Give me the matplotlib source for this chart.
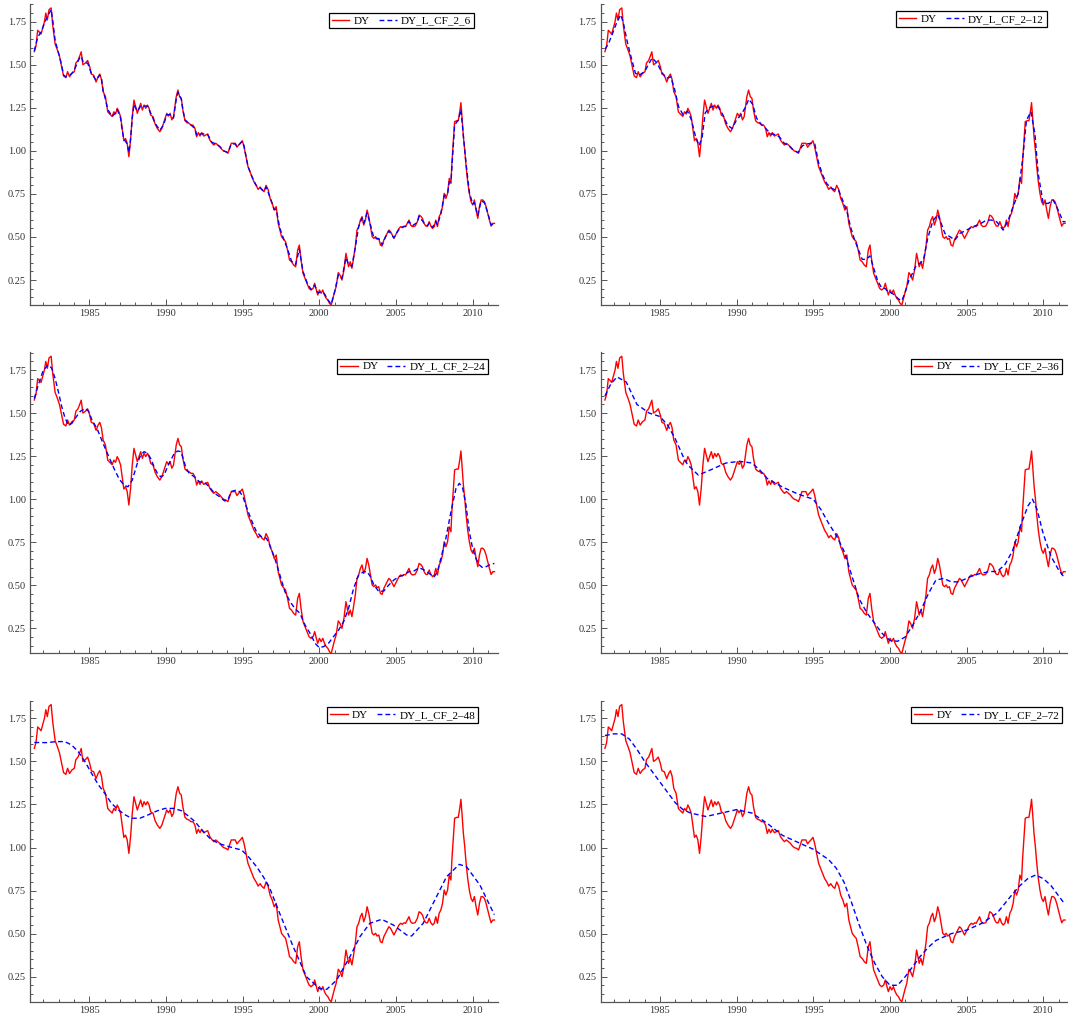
import matplotlib.pyplot as plt
import numpy as np
from matplotlib.ticker import MultipleLocator, FormatStrFormatter

# Mathematica-like look: serif font, only left/bottom axes, ticks inside
plt.rcParams['font.family'] = 'Liberation Serif'
plt.rcParams['font.size'] = 7.5

# DY (red) as (year, value)
dy = [
    (1981.41, 1.576), (1981.52, 1.609), (1981.63, 1.700), (1981.74, 1.690), (1981.85, 1.678),
    (1982.07, 1.750), (1982.16, 1.800), (1982.26, 1.760), (1982.37, 1.820), (1982.51, 1.830),
    (1982.61, 1.730), (1982.77, 1.620), (1982.92, 1.585), (1983.05, 1.550), (1983.21, 1.480),
    (1983.32, 1.435), (1983.47, 1.425), (1983.58, 1.460), (1983.71, 1.430), (1983.86, 1.450),
    (1984.02, 1.460), (1984.12, 1.510), (1984.26, 1.525), (1984.37, 1.550), (1984.47, 1.575),
    (1984.58, 1.500), (1984.74, 1.510), (1984.89, 1.525), (1985.02, 1.490), (1985.13, 1.446),
    (1985.28, 1.440), (1985.44, 1.400), (1985.57, 1.430), (1985.68, 1.446), (1985.79, 1.415),
    (1985.90, 1.344), (1986.05, 1.315), (1986.20, 1.227), (1986.33, 1.214), (1986.49, 1.200),
    (1986.60, 1.227), (1986.71, 1.214), (1986.82, 1.247), (1986.93, 1.227), (1987.04, 1.198),
    (1987.14, 1.130), (1987.25, 1.059), (1987.36, 1.072), (1987.47, 1.044), (1987.58, 0.966),
    (1987.69, 1.063), (1987.80, 1.198), (1987.91, 1.295), (1988.02, 1.256), (1988.13, 1.218),
    (1988.24, 1.247), (1988.35, 1.276), (1988.46, 1.237), (1988.57, 1.266), (1988.68, 1.247),
    (1988.79, 1.266), (1988.90, 1.247), (1989.00, 1.208), (1989.16, 1.198), (1989.29, 1.156),
    (1989.44, 1.130), (1989.60, 1.111), (1989.73, 1.130), (1989.84, 1.160), (1989.95, 1.189),
    (1990.05, 1.218), (1990.16, 1.202), (1990.27, 1.218), (1990.38, 1.180), (1990.49, 1.198),
    (1990.58, 1.256), (1990.67, 1.315), (1990.78, 1.353), (1990.89, 1.315), (1991.00, 1.305),
    (1991.10, 1.237), (1991.24, 1.175), (1991.37, 1.164), (1991.50, 1.160), (1991.63, 1.150),
    (1991.76, 1.150), (1991.89, 1.130), (1992.00, 1.082), (1992.11, 1.106), (1992.22, 1.086),
    (1992.33, 1.106), (1992.46, 1.086), (1992.59, 1.092), (1992.72, 1.098), (1992.86, 1.063),
    (1992.99, 1.047), (1993.12, 1.034), (1993.25, 1.044), (1993.38, 1.034), (1993.51, 1.024),
    (1993.64, 1.009), (1993.77, 0.999), (1993.91, 0.995), (1994.04, 0.986), (1994.15, 1.015),
    (1994.26, 1.044), (1994.39, 1.044), (1994.52, 1.044), (1994.63, 1.021), (1994.74, 1.034),
    (1994.85, 1.044), (1994.98, 1.059), (1995.09, 1.024), (1995.22, 0.966), (1995.35, 0.908),
    (1995.48, 0.879), (1995.61, 0.850), (1995.74, 0.820), (1995.88, 0.800), (1996.01, 0.776),
    (1996.14, 0.790), (1996.27, 0.773), (1996.40, 0.763), (1996.53, 0.800), (1996.66, 0.776),
    (1996.79, 0.724), (1996.93, 0.695), (1997.06, 0.656), (1997.19, 0.676), (1997.32, 0.579),
    (1997.43, 0.540), (1997.54, 0.502), (1997.67, 0.486), (1997.80, 0.473), (1997.93, 0.424),
    (1998.06, 0.366), (1998.19, 0.356), (1998.33, 0.337), (1998.46, 0.327), (1998.59, 0.424),
    (1998.70, 0.453), (1998.81, 0.366), (1998.94, 0.289), (1999.07, 0.260), (1999.20, 0.231),
    (1999.33, 0.202), (1999.46, 0.192), (1999.60, 0.202), (1999.70, 0.231), (1999.81, 0.192),
    (1999.90, 0.163), (2000.01, 0.192), (2000.12, 0.173), (2000.23, 0.192), (2000.34, 0.163),
    (2000.45, 0.144), (2000.56, 0.134), (2000.67, 0.114), (2000.78, 0.105), (2000.89, 0.144),
    (2001.00, 0.182), (2001.10, 0.211), (2001.24, 0.293), (2001.35, 0.279), (2001.48, 0.250),
    (2001.61, 0.308), (2001.74, 0.405), (2001.83, 0.366), (2001.91, 0.327), (2002.02, 0.356),
    (2002.13, 0.318), (2002.22, 0.366), (2002.35, 0.443), (2002.46, 0.540), (2002.57, 0.560),
    (2002.68, 0.598), (2002.79, 0.618), (2002.90, 0.569), (2003.01, 0.598), (2003.12, 0.656),
    (2003.23, 0.618), (2003.34, 0.560), (2003.45, 0.502), (2003.56, 0.492), (2003.67, 0.502),
    (2003.77, 0.486), (2003.88, 0.492), (2003.99, 0.453), (2004.10, 0.447), (2004.21, 0.482),
    (2004.32, 0.502), (2004.43, 0.521), (2004.54, 0.540), (2004.65, 0.531), (2004.76, 0.511),
    (2004.87, 0.492), (2004.98, 0.511), (2005.09, 0.531), (2005.20, 0.550), (2005.31, 0.560),
    (2005.42, 0.554), (2005.53, 0.563), (2005.63, 0.560), (2005.74, 0.579), (2005.85, 0.598),
    (2005.96, 0.569), (2006.07, 0.560), (2006.25, 0.563), (2006.40, 0.589), (2006.51, 0.627),
    (2006.62, 0.621), (2006.73, 0.608), (2006.84, 0.579), (2006.95, 0.563), (2007.06, 0.563),
    (2007.17, 0.589), (2007.28, 0.563), (2007.39, 0.550), (2007.50, 0.560), (2007.60, 0.598),
    (2007.71, 0.560), (2007.82, 0.618), (2007.93, 0.637), (2008.04, 0.676), (2008.15, 0.753),
    (2008.26, 0.724), (2008.37, 0.753), (2008.48, 0.840), (2008.59, 0.811), (2008.65, 0.927),
    (2008.74, 1.044), (2008.83, 1.170), (2008.96, 1.175), (2009.07, 1.175), (2009.18, 1.237),
    (2009.24, 1.280), (2009.31, 1.198), (2009.40, 1.082), (2009.49, 1.005), (2009.57, 0.918),
    (2009.68, 0.821), (2009.79, 0.753), (2009.90, 0.705), (2010.01, 0.686), (2010.12, 0.715),
    (2010.23, 0.656), (2010.34, 0.608), (2010.45, 0.676), (2010.56, 0.715), (2010.66, 0.715),
    (2010.77, 0.705), (2010.88, 0.676), (2010.99, 0.637), (2011.10, 0.598), (2011.21, 0.563),
    (2011.32, 0.579), (2011.43, 0.579),
]

# filtered series (blue dashed), one per panel
cf_2_6 = [
    (1981.41, 1.58), (1981.63, 1.66), (1981.85, 1.69), (1982.07, 1.74), (1982.26, 1.78),
    (1982.51, 1.82), (1982.61, 1.76), (1982.77, 1.64), (1982.92, 1.59), (1983.05, 1.55),
    (1983.21, 1.49), (1983.32, 1.44), (1983.47, 1.43), (1983.71, 1.44), (1983.86, 1.45),
    (1984.02, 1.47), (1984.26, 1.52), (1984.37, 1.54), (1984.47, 1.55), (1984.58, 1.52),
    (1984.74, 1.51), (1984.89, 1.51), (1985.13, 1.45), (1985.44, 1.41), (1985.68, 1.44),
    (1985.79, 1.42), (1985.90, 1.35), (1986.05, 1.30), (1986.20, 1.24), (1986.49, 1.20),
    (1986.71, 1.22), (1986.82, 1.24), (1987.04, 1.19), (1987.14, 1.12), (1987.25, 1.07),
    (1987.47, 1.04), (1987.58, 0.99), (1987.69, 1.07), (1987.80, 1.19), (1987.91, 1.27),
    (1988.13, 1.23), (1988.35, 1.26), (1988.57, 1.26), (1988.79, 1.26), (1989.00, 1.22),
    (1989.29, 1.16), (1989.60, 1.12), (1989.84, 1.15), (1990.05, 1.21), (1990.27, 1.21),
    (1990.49, 1.19), (1990.67, 1.30), (1990.78, 1.34), (1991.00, 1.30), (1991.10, 1.24),
    (1991.24, 1.18), (1991.50, 1.16), (1991.89, 1.13), (1992.00, 1.09), (1992.33, 1.10),
    (1992.72, 1.095), (1992.99, 1.05), (1993.25, 1.04), (1993.51, 1.025), (1993.77, 1.00),
    (1994.04, 0.99), (1994.26, 1.04), (1994.52, 1.04), (1994.63, 1.025), (1994.98, 1.055),
    (1995.09, 1.03), (1995.35, 0.91), (1995.61, 0.85), (1995.88, 0.80), (1996.14, 0.785),
    (1996.40, 0.765), (1996.53, 0.79), (1996.79, 0.73), (1997.06, 0.66), (1997.19, 0.66),
    (1997.43, 0.55), (1997.67, 0.49), (1997.93, 0.43), (1998.19, 0.36), (1998.46, 0.34),
    (1998.70, 0.43), (1998.94, 0.30), (1999.20, 0.235), (1999.46, 0.195), (1999.70, 0.22),
    (1999.90, 0.175), (2000.12, 0.18), (2000.34, 0.17), (2000.56, 0.135), (2000.78, 0.11),
    (2001.00, 0.18), (2001.24, 0.28), (2001.48, 0.26), (2001.74, 0.38), (2001.91, 0.34),
    (2002.13, 0.33), (2002.35, 0.44), (2002.57, 0.56), (2002.79, 0.61), (2002.90, 0.58),
    (2003.12, 0.64), (2003.34, 0.57), (2003.56, 0.495), (2003.88, 0.49), (2004.10, 0.455),
    (2004.32, 0.50), (2004.54, 0.535), (2004.87, 0.495), (2005.09, 0.53), (2005.31, 0.555),
    (2005.63, 0.562), (2005.85, 0.59), (2006.07, 0.565), (2006.40, 0.585), (2006.51, 0.62),
    (2006.84, 0.58), (2007.06, 0.565), (2007.17, 0.58), (2007.39, 0.555), (2007.60, 0.59),
    (2007.71, 0.57), (2007.93, 0.635), (2008.15, 0.74), (2008.37, 0.75), (2008.48, 0.82),
    (2008.59, 0.82), (2008.74, 1.03), (2008.83, 1.15), (2009.07, 1.18), (2009.24, 1.24),
    (2009.40, 1.09), (2009.57, 0.93), (2009.79, 0.76), (2010.01, 0.69), (2010.12, 0.70),
    (2010.34, 0.625), (2010.56, 0.71), (2010.77, 0.70), (2010.99, 0.64), (2011.21, 0.57),
    (2011.43, 0.58),
]

cf_2_12 = [
    (1981.41, 1.59), (1981.63, 1.62), (1981.90, 1.68), (1982.20, 1.75), (1982.45, 1.79),
    (1982.62, 1.74), (1982.85, 1.64), (1983.10, 1.55), (1983.40, 1.45), (1983.65, 1.44),
    (1984.00, 1.46), (1984.30, 1.51), (1984.50, 1.54), (1984.80, 1.51), (1985.10, 1.46),
    (1985.40, 1.42), (1985.70, 1.43), (1985.95, 1.36), (1986.20, 1.26), (1986.50, 1.21),
    (1986.80, 1.23), (1987.05, 1.18), (1987.30, 1.09), (1987.55, 1.03), (1987.75, 1.08),
    (1987.95, 1.22), (1988.20, 1.25), (1988.50, 1.26), (1988.80, 1.255), (1989.10, 1.21),
    (1989.40, 1.15), (1989.70, 1.13), (1990.00, 1.18), (1990.30, 1.21), (1990.55, 1.25),
    (1990.80, 1.30), (1991.05, 1.27), (1991.30, 1.19), (1991.60, 1.155), (1991.90, 1.13),
    (1992.20, 1.10), (1992.50, 1.095), (1992.80, 1.08), (1993.10, 1.045), (1993.40, 1.03),
    (1993.70, 1.005), (1994.00, 0.99), (1994.30, 1.03), (1994.60, 1.04), (1994.90, 1.045),
    (1995.10, 1.04), (1995.35, 0.93), (1995.61, 0.86), (1995.88, 0.81), (1996.14, 0.785),
    (1996.40, 0.775), (1996.66, 0.77), (1996.93, 0.71), (1997.19, 0.65), (1997.43, 0.56),
    (1997.67, 0.49), (1997.93, 0.43), (1998.19, 0.37), (1998.46, 0.37), (1998.70, 0.39),
    (1998.94, 0.32), (1999.20, 0.245), (1999.46, 0.205), (1999.70, 0.20), (1999.90, 0.18),
    (2000.12, 0.175), (2000.34, 0.16), (2000.56, 0.14), (2000.78, 0.13), (2001.00, 0.18),
    (2001.24, 0.25), (2001.48, 0.29), (2001.74, 0.34), (2002.02, 0.35), (2002.22, 0.38),
    (2002.46, 0.49), (2002.79, 0.59), (2003.12, 0.63), (2003.34, 0.58), (2003.59, 0.52),
    (2003.91, 0.502), (2004.24, 0.482), (2004.57, 0.521), (2005.00, 0.54), (2005.43, 0.56),
    (2005.87, 0.575), (2006.30, 0.598), (2006.63, 0.598), (2006.96, 0.589), (2007.39, 0.54),
    (2007.72, 0.598), (2008.04, 0.676), (2008.37, 0.753), (2008.65, 0.947), (2008.91, 1.179),
    (2009.20, 1.227), (2009.46, 1.10), (2009.67, 0.87), (2010.00, 0.695), (2010.33, 0.695),
    (2010.65, 0.715), (2010.98, 0.656), (2011.30, 0.589), (2011.46, 0.589),
]

cf_2_24 = [
    (1981.41, 1.585), (1981.67, 1.663), (1982.00, 1.75), (1982.33, 1.78), (1982.55, 1.76),
    (1982.77, 1.70), (1982.99, 1.62), (1983.20, 1.537), (1983.42, 1.47), (1983.64, 1.43),
    (1983.86, 1.44), (1984.08, 1.47), (1984.41, 1.51), (1984.74, 1.527), (1984.96, 1.51),
    (1985.17, 1.46), (1985.50, 1.41), (1985.72, 1.363), (1985.94, 1.315), (1986.27, 1.247),
    (1986.60, 1.18), (1986.93, 1.12), (1987.25, 1.082), (1987.52, 1.072), (1987.80, 1.111),
    (1988.13, 1.208), (1988.35, 1.256), (1988.57, 1.276), (1988.79, 1.266), (1989.00, 1.237),
    (1989.22, 1.189), (1989.44, 1.15), (1989.66, 1.13), (1989.88, 1.14), (1990.10, 1.189),
    (1990.32, 1.227), (1990.54, 1.266), (1990.76, 1.28), (1990.98, 1.276), (1991.15, 1.227),
    (1991.31, 1.18), (1991.52, 1.15), (1991.85, 1.13), (1992.18, 1.101), (1992.50, 1.098),
    (1992.83, 1.072), (1993.16, 1.034), (1993.49, 1.015), (1993.82, 0.99), (1994.04, 0.995),
    (1994.25, 1.044), (1994.58, 1.053), (1994.80, 1.044), (1995.02, 1.015), (1995.24, 0.957),
    (1995.57, 0.879), (1995.90, 0.811), (1996.22, 0.782), (1996.55, 0.773), (1996.77, 0.734),
    (1997.10, 0.656), (1997.43, 0.56), (1997.76, 0.463), (1998.09, 0.405), (1998.41, 0.366),
    (1998.74, 0.337), (1999.07, 0.269), (1999.40, 0.221), (1999.73, 0.163), (2000.00, 0.138),
    (2000.28, 0.144), (2000.60, 0.163), (2000.93, 0.202), (2001.26, 0.24), (2001.59, 0.289),
    (2001.91, 0.366), (2002.24, 0.482), (2002.57, 0.56), (2002.90, 0.579), (2003.12, 0.579),
    (2003.34, 0.55), (2003.56, 0.502), (2003.89, 0.463), (2004.21, 0.467), (2004.54, 0.502),
    (2004.87, 0.531), (2005.20, 0.55), (2005.52, 0.56), (2005.85, 0.579), (2006.18, 0.583),
    (2006.51, 0.602), (2006.84, 0.589), (2007.16, 0.569), (2007.50, 0.55), (2007.71, 0.579),
    (2007.93, 0.656), (2008.26, 0.773), (2008.59, 0.927), (2008.92, 1.063), (2009.14, 1.092),
    (2009.36, 1.063), (2009.57, 0.966), (2009.79, 0.811), (2010.00, 0.715), (2010.22, 0.656),
    (2010.44, 0.618), (2010.66, 0.602), (2010.88, 0.608), (2011.10, 0.618), (2011.42, 0.627),
]

cf_2_36 = [
    (1981.41, 1.60), (1981.80, 1.67), (1982.20, 1.71), (1982.80, 1.68), (1983.50, 1.55),
    (1984.30, 1.50), (1985.00, 1.48), (1985.50, 1.43), (1986.00, 1.35), (1986.50, 1.25),
    (1986.80, 1.20), (1987.50, 1.14), (1988.30, 1.17), (1989.30, 1.21), (1990.20, 1.22),
    (1991.00, 1.21), (1991.50, 1.17), (1992.00, 1.12), (1993.00, 1.07), (1994.00, 1.03),
    (1995.00, 1.00), (1995.50, 0.94), (1996.00, 0.86), (1996.50, 0.79), (1997.00, 0.70),
    (1997.50, 0.56), (1998.00, 0.42), (1998.50, 0.34), (1999.00, 0.28), (1999.50, 0.22),
    (2000.00, 0.18), (2000.50, 0.175), (2001.00, 0.20), (2001.50, 0.27), (2002.00, 0.35),
    (2002.50, 0.45), (2003.00, 0.53), (2003.50, 0.54), (2004.00, 0.52), (2004.50, 0.52),
    (2005.00, 0.54), (2005.50, 0.56), (2006.00, 0.57), (2006.50, 0.58), (2007.00, 0.58),
    (2007.50, 0.62), (2008.00, 0.70), (2008.50, 0.84), (2009.00, 0.96), (2009.30, 1.00),
    (2009.60, 0.94), (2010.00, 0.80), (2010.50, 0.67), (2011.00, 0.59), (2011.42, 0.54),
]

cf_2_48 = [
    (1981.41, 1.61), (1982.20, 1.609), (1982.87, 1.615), (1983.40, 1.615), (1983.85, 1.595),
    (1984.28, 1.556), (1984.72, 1.498), (1985.15, 1.43), (1985.60, 1.363), (1986.00, 1.315),
    (1986.45, 1.256), (1986.90, 1.218), (1987.33, 1.19), (1987.76, 1.17), (1988.30, 1.17),
    (1988.85, 1.19), (1989.40, 1.212), (1989.93, 1.227), (1990.48, 1.227), (1991.00, 1.214),
    (1991.46, 1.183), (1991.90, 1.15), (1992.33, 1.102), (1992.87, 1.053), (1993.41, 1.024),
    (1993.96, 1.009), (1994.50, 0.995), (1994.93, 0.986), (1995.37, 0.947), (1995.90, 0.89),
    (1996.35, 0.83), (1996.74, 0.77), (1997.33, 0.637), (1998.30, 0.424), (1999.17, 0.249),
    (2000.00, 0.182), (2000.48, 0.176), (2001.13, 0.23), (2002.00, 0.366), (2002.65, 0.482),
    (2003.30, 0.56), (2004.07, 0.583), (2004.83, 0.55), (2005.70, 0.492), (2006.02, 0.486),
    (2006.78, 0.56), (2007.43, 0.676), (2008.30, 0.83), (2009.13, 0.902), (2009.60, 0.889),
    (2010.48, 0.782), (2011.42, 0.61),
]

cf_2_72 = [
    (1981.41, 1.65), (1982.00, 1.66), (1982.50, 1.66), (1983.00, 1.63), (1983.50, 1.57),
    (1984.00, 1.50), (1984.50, 1.44), (1985.00, 1.38), (1985.50, 1.32), (1986.00, 1.26),
    (1986.50, 1.22), (1987.00, 1.20), (1988.00, 1.18), (1989.00, 1.20), (1990.00, 1.22),
    (1991.00, 1.20), (1992.00, 1.14), (1993.00, 1.07), (1994.00, 1.03), (1995.00, 0.99),
    (1996.00, 0.93), (1996.50, 0.88), (1997.00, 0.80), (1997.50, 0.68), (1998.00, 0.55),
    (1998.50, 0.43), (1999.00, 0.33), (1999.50, 0.25), (2000.00, 0.20), (2000.50, 0.20),
    (2001.00, 0.25), (2001.50, 0.31), (2002.00, 0.37), (2002.50, 0.42), (2003.00, 0.46),
    (2004.00, 0.50), (2005.00, 0.52), (2006.00, 0.56), (2007.00, 0.62), (2008.00, 0.73),
    (2008.50, 0.78), (2009.00, 0.82), (2009.50, 0.84), (2010.00, 0.82), (2010.50, 0.78),
    (2011.00, 0.72), (2011.42, 0.67),
]

panels = [
    (cf_2_6, 'DY_L_CF_2_6', (0.949, 0.970)),
    (cf_2_12, 'DY_L_CF_2\u201312', (0.953, 0.975)),
    (cf_2_24, 'DY_L_CF_2\u201324', (0.979, 0.978)),
    (cf_2_36, 'DY_L_CF_2\u201336', (0.986, 0.978)),
    (cf_2_48, 'DY_L_CF_2\u201348', (0.957, 0.978)),
    (cf_2_72, 'DY_L_CF_2\u201372', (0.986, 0.978)),
]

fig = plt.figure(figsize=(10.68, 10.17), dpi=100)
lefts = [0.0281, 0.5624]
bottoms = [0.7001, 0.3576, 0.0151]
w, h = 0.4382, 0.296

dy_arr = np.array(dy)
axis_color = '#555555'

for i, (series, label, anchor) in enumerate(panels):
    ax = fig.add_axes([lefts[i % 2], bottoms[i // 2], w, h])
    s = np.array(series)
    ax.plot(dy_arr[:, 0], dy_arr[:, 1], color='red', lw=1.0, label='DY')
    ax.plot(s[:, 0], s[:, 1], color='blue', lw=1.0, ls=(0, (3.5, 2.2)), label=label)

    ax.set_xlim(1981.13, 2011.66)
    ax.set_ylim(0.105, 1.853)
    ax.xaxis.set_major_locator(MultipleLocator(5))
    ax.xaxis.set_minor_locator(MultipleLocator(1))
    ax.yaxis.set_major_locator(MultipleLocator(0.25))
    ax.yaxis.set_minor_locator(MultipleLocator(0.05))
    ax.yaxis.set_major_formatter(FormatStrFormatter('%.2f'))
    ax.xaxis.set_major_formatter(FormatStrFormatter('%d'))

    for side in ['top', 'right']:
        ax.spines[side].set_visible(False)
    for side in ['left', 'bottom']:
        ax.spines[side].set_color(axis_color)
        ax.spines[side].set_linewidth(0.9)
    ax.tick_params(which='both', direction='in', color=axis_color, labelcolor='#333333',
                   labelsize=7.5, width=0.7)
    ax.tick_params(which='major', length=4, pad=3)
    ax.tick_params(which='minor', length=2)

    leg = ax.legend(loc='upper right', bbox_to_anchor=anchor, ncol=2, frameon=True,
                    fancybox=False, framealpha=1, edgecolor='black', fontsize=8,
                    handlelength=1.6, handletextpad=0.4, columnspacing=0.8,
                    borderpad=0.25, borderaxespad=0)
    leg.get_frame().set_linewidth(0.9)

fig.savefig('out.png', dpi=100)
